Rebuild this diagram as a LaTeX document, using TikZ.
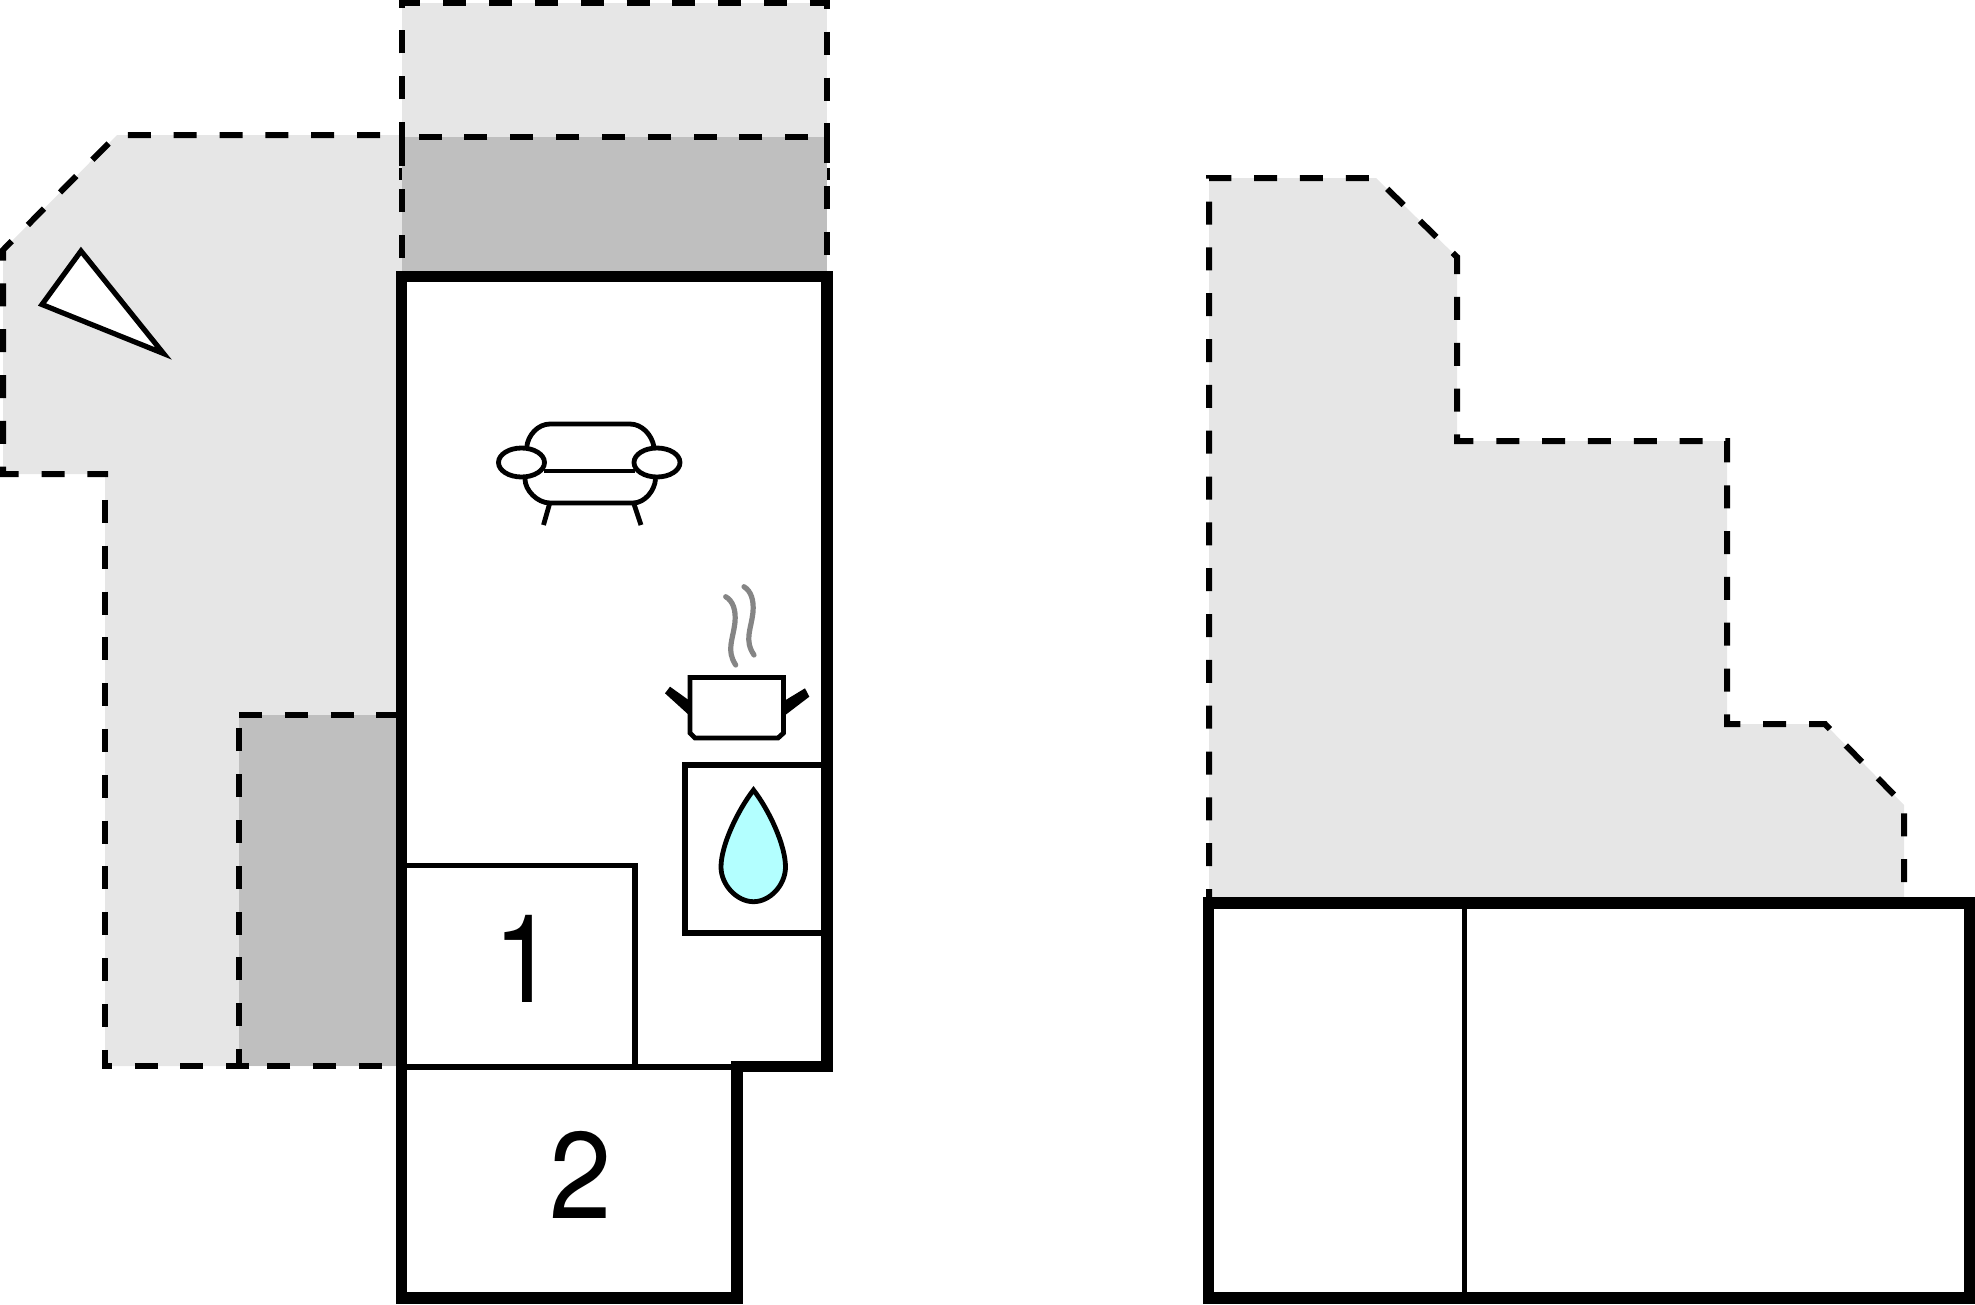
\documentclass[tikz,border=0pt]{standalone}
\usepackage{fontspec}
\setmainfont[FakeStretch=0.91]{TeX Gyre Heros}
\definecolor{lightzone}{HTML}{E6E6E6}
\definecolor{darkzone}{HTML}{BFBFBF}
\definecolor{waterblue}{HTML}{B3FFFF}
\definecolor{steamgrey}{HTML}{858585}
\begin{document}
\begin{tikzpicture}[
            x=1pt, y=-1pt,
            every node/.style={inner sep=0pt, anchor=base, font=\fontsize{123}{123}\selectfont},
            dashln/.style={draw, line width=6pt, dash pattern=on 23pt off 22.83pt},
            wallln/.style={draw, fill=white, line width=11.3pt, miter limit=10},
            thinln/.style={draw, line width=5.7pt},
            iconln/.style={draw, line width=4.8pt},
            steamln/.style={draw=steamgrey, line width=5.2pt, line cap=round}
            ]
        \useasboundingbox (0,0) rectangle (1975,1304);
        % zones on the left
        \fill[lightzone] (402,135) -- (117,135) -- (3,250) -- (3,474) -- (105,474) -- (105,1066) -- (402,1066) -- cycle;
        \fill[lightzone] (402,3) rectangle (827,137);
        \fill[darkzone] (402,137) rectangle (827,271);
        \fill[darkzone] (239,715) rectangle (402,1066);
        \draw[dashln, dash phase=23.83pt] (402,135) -- (117,135) -- (3,250) -- (3,474) -- (108,474);
        \draw[dashln, dash phase=20pt] (105,474) -- (105,1066) -- (250,1066);
        \draw[dashln, dash phase=25.83pt] (402,1066) -- (265,1066);
        \draw[dashln, dash phase=6pt] (239,1066) -- (239,715);
        \draw[dashln] (239,715) -- (397,715);
        \draw[dashln] (402,145) -- (402,3) -- (827,3) -- (827,145);
        \draw[dashln, dash phase=27pt] (827,137) -- (402,137);
        \draw[dashln] (402,258) -- (402,140);
        \draw[dashln] (827,255) -- (827,140);
        \draw[line width=3pt] (400.5,168) -- (400.5,180);
        \draw[line width=3pt] (828.5,168) -- (828.5,180);
        % zone on the right
        \fill[lightzone] (1209,897) -- (1209,178) -- (1376,178) -- (1457,257) -- (1457,441) -- (1727,441) -- (1727,724) -- (1825,724) -- (1904,805) -- (1904,897) -- cycle;
        \draw[dashln, dash phase=15pt] (1209,897) -- (1209,178) -- (1376,178) -- (1457,257) -- (1457,441) -- (1727,441) -- (1727,724) -- (1825,724) -- (1904,805) -- (1904,897);
        % walls
        \draw[wallln] (401.5,276.5) -- (827,276.5) -- (827,1066.5) -- (737,1066.5) -- (737,1298) -- (401.5,1298) -- cycle;
        \draw[wallln] (1208.5,903) rectangle (1969.5,1298);
        \draw[thinln] (407,1067) -- (732,1067);
        \draw[thinln] (407,865.5) -- (635,865.5) -- (635,1067);
        \draw[thinln] (822,765) -- (685,765) -- (685,933) -- (822,933);
        \draw[thinln] (1464.5,908) -- (1464.5,1293);
        % viewpoint
        \draw[thinln, fill=white, line width=5.2pt] (81,251) -- (42,304.5) -- (163.5,353.5) -- cycle;
        % sofa
        \draw[iconln] (526.7,447) .. controls (528,435) and (538,424) .. (550,424) -- (630,424) .. controls (642,424) and (652,435) .. (654,447);
        \draw[iconln] (544,471) -- (635,471);
        \draw[iconln] (525,479) .. controls (525,490) and (537,503) .. (550,503) -- (633,503) .. controls (645,503) and (655,490) .. (655.5,479);
        \draw[iconln] (549.5,504) -- (543.5,525);
        \draw[iconln] (634,504) -- (641,525);
        \draw[iconln, fill=white] (521.5,462.5) ellipse [x radius=23, y radius=14.5];
        \draw[iconln, fill=white] (657,462.5) ellipse [x radius=23, y radius=14.5];
        % pot
        \draw[steamln] (725.7,596.7) .. controls (733,601) and (736,610) .. (735,622) .. controls (733,640) and (726,650) .. (735.7,665);
        \draw[steamln] (744,586.7) .. controls (751,591) and (754,600) .. (753,612) .. controls (751,630) and (744,640) .. (754,655);
        \fill (670,686.7) -- (665,693.3) -- (690,716) -- (690,701) -- cycle;
        \fill (805,688.3) -- (809.3,696.7) -- (784,716) -- (784,701) -- cycle;
        \draw[iconln, fill=white] (690,677.5) -- (783.5,677.5) -- (783.5,733) -- (778,738) -- (695,738) -- (690,733) -- cycle;
        % water drop
        \draw[iconln, fill=waterblue] (753.5,790) .. controls (738,810) and (721,845) .. (721,867) .. controls (721,885) and (737,901.7) .. (753.5,901.7) .. controls (770,901.7) and (785.5,885) .. (785.5,867) .. controls (785.5,845) and (769,810) .. (753.5,790) -- cycle;
        % floors
        \node (floorone) at (524.7,1002) {1};
        \node (floortwo) at (581,1218) {2};
\end{tikzpicture}
\end{document}
